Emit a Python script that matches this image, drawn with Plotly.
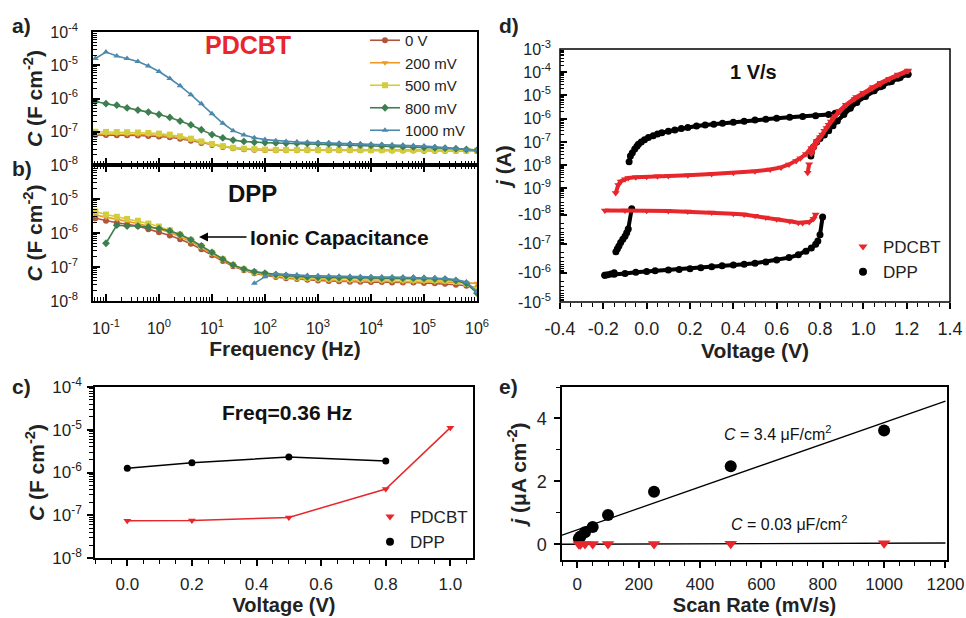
import plotly.graph_objects as go

W, H = 966, 618
FONT = "Liberation Sans, Arial, sans-serif"


def fx(p):
    return p / W


def fy(p):
    return 1 - p / H


# ---------------- data : panels a) and b) (impedance) ----------------
freq = [0.063, 0.1, 0.16, 0.25, 0.4, 0.63,
        1.0, 1.6, 2.5, 4.0, 6.3,
        10, 16, 25, 40, 63,
        100, 160, 250, 400, 630,
        1e3, 1.6e3, 2.5e3, 4e3, 6.3e3,
        1e4, 1.6e4, 2.5e4, 4e4, 6.3e4,
        1e5, 1.6e5, 2.5e5, 4e5, 6.3e5,
        1e6]

bias_names = ["0 V", "200 mV", "500 mV", "800 mV", "1000 mV"]

# PDCBT capacitance (F cm^-2)
pdcbt_0v = [8.0e-8, 8.0e-8, 7.9e-8, 7.8e-8, 7.7e-8, 7.5e-8,
            7.2e-8, 6.8e-8, 6.2e-8, 5.4e-8, 4.6e-8,
            4.0e-8, 3.5e-8, 3.2e-8, 3.0e-8, 2.9e-8,
            2.85e-8, 2.8e-8, 2.8e-8, 2.8e-8, 2.8e-8,
            2.8e-8, 2.8e-8, 2.8e-8, 2.8e-8, 2.8e-8,
            2.8e-8, 2.8e-8, 2.75e-8, 2.75e-8, 2.75e-8,
            2.7e-8, 2.7e-8, 2.7e-8, 2.7e-8, 2.7e-8,
            2.65e-8]
pdcbt_200 = [8.6e-8, 8.6e-8, 8.5e-8, 8.4e-8, 8.3e-8, 8.1e-8,
             7.8e-8, 7.3e-8, 6.6e-8, 5.7e-8, 4.8e-8,
             4.1e-8, 3.6e-8, 3.3e-8, 3.1e-8, 3.0e-8,
             2.9e-8, 2.85e-8, 2.85e-8, 2.85e-8, 2.85e-8,
             2.85e-8, 2.85e-8, 2.85e-8, 2.85e-8, 2.8e-8,
             2.8e-8, 2.8e-8, 2.8e-8, 2.8e-8, 2.8e-8,
             2.75e-8, 2.75e-8, 2.75e-8, 2.7e-8, 2.7e-8,
             2.7e-8]
pdcbt_500 = [1.0e-7, 9.9e-8, 9.8e-8, 9.7e-8, 9.5e-8, 9.2e-8,
             8.8e-8, 8.2e-8, 7.3e-8, 6.2e-8, 5.1e-8,
             4.3e-8, 3.7e-8, 3.3e-8, 3.1e-8, 3.0e-8,
             2.9e-8, 2.85e-8, 2.85e-8, 2.85e-8, 2.85e-8,
             2.85e-8, 2.85e-8, 2.85e-8, 2.85e-8, 2.85e-8,
             2.8e-8, 2.8e-8, 2.8e-8, 2.8e-8, 2.8e-8,
             2.8e-8, 2.75e-8, 2.75e-8, 2.75e-8, 2.7e-8,
             2.7e-8]
pdcbt_800 = [8.1e-7, 7.0e-7, 6.3e-7, 5.2e-7, 4.5e-7, 3.9e-7,
             3.3e-7, 2.7e-7, 2.1e-7, 1.6e-7, 1.15e-7,
             8.2e-8, 6.5e-8, 5.6e-8, 5.1e-8, 4.8e-8,
             4.7e-8, 4.6e-8, 4.5e-8, 4.5e-8, 4.4e-8,
             4.4e-8, 4.3e-8, 4.2e-8, 4.1e-8, 4.0e-8,
             3.9e-8, 3.8e-8, 3.7e-8, 3.6e-8, 3.5e-8,
             3.4e-8, 3.3e-8, 3.2e-8, 3.1e-8, 2.95e-8,
             2.8e-8]
pdcbt_1000 = [1.6e-5, 2.5e-5, 1.9e-5, 1.6e-5, 1.3e-5, 9.5e-6,
              6.5e-6, 4.0e-6, 2.4e-6, 1.3e-6, 7.0e-7,
              3.5e-7, 1.8e-7, 1.08e-7, 8.0e-8, 6.6e-8,
              5.8e-8, 5.4e-8, 5.1e-8, 4.9e-8, 4.8e-8,
              4.7e-8, 4.6e-8, 4.5e-8, 4.4e-8, 4.3e-8,
              4.2e-8, 4.1e-8, 4.0e-8, 3.9e-8, 3.8e-8,
              3.7e-8, 3.5e-8, 3.3e-8, 3.1e-8, 2.9e-8,
              2.8e-8]

# DPP capacitance (F cm^-2)
dpp_0v = [2.7e-6, 2.3e-6, 2.0e-6, 1.8e-6, 1.6e-6, 1.3e-6,
          1.05e-6, 8.5e-7, 6.5e-7, 4.8e-7, 3.3e-7,
          2.2e-7, 1.5e-7, 1.05e-7, 8.0e-8, 6.5e-8,
          5.7e-8, 5.1e-8, 4.7e-8, 4.4e-8, 4.2e-8,
          4.0e-8, 3.9e-8, 3.8e-8, 3.7e-8, 3.7e-8,
          3.6e-8, 3.6e-8, 3.5e-8, 3.5e-8, 3.5e-8,
          3.4e-8, 3.3e-8, 3.2e-8, 3.0e-8, 2.8e-8,
          2.4e-8]
dpp_200 = [3.4e-6, 2.9e-6, 2.5e-6, 2.2e-6, 1.9e-6, 1.6e-6,
           1.3e-6, 1.05e-6, 7.8e-7, 5.6e-7, 3.8e-7,
           2.4e-7, 1.6e-7, 1.1e-7, 8.3e-8, 6.8e-8,
           5.9e-8, 5.3e-8, 4.9e-8, 4.6e-8, 4.4e-8,
           4.2e-8, 4.1e-8, 4.0e-8, 3.9e-8, 3.9e-8,
           3.8e-8, 3.8e-8, 3.8e-8, 3.7e-8, 3.7e-8,
           3.7e-8, 3.6e-8, 3.6e-8, 3.5e-8, 3.4e-8,
           3.3e-8]
dpp_500 = [4.3e-6, 3.5e-6, 3.0e-6, 2.6e-6, 2.3e-6, 1.9e-6,
           1.55e-6, 1.2e-6, 9.0e-7, 6.3e-7, 4.1e-7,
           2.6e-7, 1.7e-7, 1.15e-7, 8.6e-8, 7.0e-8,
           6.2e-8, 5.6e-8, 5.2e-8, 4.9e-8, 4.7e-8,
           4.6e-8, 4.5e-8, 4.5e-8, 4.4e-8, 4.4e-8,
           4.4e-8, 4.3e-8, 4.3e-8, 4.3e-8, 4.2e-8,
           4.2e-8, 4.1e-8, 4.0e-8, 3.7e-8, 3.2e-8,
           2.2e-8]
dpp_800 = [None, 5.0e-7, 1.7e-6, 1.6e-6, 1.6e-6, 1.5e-6,
           1.35e-6, 1.15e-6, 9.0e-7, 6.3e-7, 4.2e-7,
           2.7e-7, 1.7e-7, 1.15e-7, 8.7e-8, 7.3e-8,
           6.6e-8, 6.0e-8, 5.6e-8, 5.3e-8, 5.1e-8,
           5.0e-8, 4.9e-8, 4.9e-8, 4.8e-8, 4.8e-8,
           4.8e-8, 4.7e-8, 4.7e-8, 4.7e-8, 4.7e-8,
           4.6e-8, 4.5e-8, 4.4e-8, 4.0e-8, 3.3e-8,
           1.7e-8]
dpp_1000 = [None, None, None, None, None, None,
            None, None, None, None, None,
            None, None, None, None, 3.3e-8,
            5.2e-8, 6.3e-8, 6.0e-8, 5.8e-8, 5.6e-8,
            5.5e-8, 5.4e-8, 5.3e-8, 5.3e-8, 5.2e-8,
            5.2e-8, 5.1e-8, 5.1e-8, 5.0e-8, 5.0e-8,
            4.9e-8, 4.8e-8, 4.6e-8, 4.3e-8, 3.6e-8,
            1.9e-8]

freq_ticks = [0.1, 1, 10, 100, 1e3, 1e4, 1e5, 1e6]
freq_ticktext = ["10<sup>-1</sup>", "10<sup>0</sup>", "10<sup>1</sup>", "10<sup>2</sup>",
                 "10<sup>3</sup>", "10<sup>4</sup>", "10<sup>5</sup>", "10<sup>6</sup>"]
cap_ticks = [1e-4, 1e-5, 1e-6, 1e-7, 1e-8]
cap_ticktext = ["10<sup>-4</sup>", "10<sup>-5</sup>", "10<sup>-6</sup>", "10<sup>-7</sup>", "10<sup>-8</sup>"]

# ---------------- data : panel c) ----------------
c_volt_pdcbt = [0.0, 0.2, 0.5, 0.8, 1.0]
c_cap_pdcbt = [7.4e-8, 7.5e-8, 8.9e-8, 4.1e-7, 1.12e-5]
c_volt_dpp = [0.0, 0.2, 0.5, 0.8]
c_cap_dpp = [1.26e-6, 1.7e-6, 2.3e-6, 1.87e-6]

# ---------------- data : panel d) (CV at 1 V/s, current in A) ----------------
dpp_fwd_v = [-0.081, -0.075, -0.066, -0.055, -0.045, -0.038, -0.025, -0.01, 0.008, 0.03,
             0.05, 0.07, 0.10, 0.13, 0.16, 0.19, 0.23, 0.27, 0.31, 0.35,
             0.40, 0.45, 0.50, 0.55, 0.60, 0.66, 0.72, 0.78, 0.84, 0.87,
             0.90, 0.92, 0.94, 0.967, 1.0, 1.044, 1.08, 1.12, 1.16, 1.206]
dpp_fwd_j = [1.4e-8, 2.5e-8, 3.4e-8, 5.0e-8, 6.5e-8, 7.9e-8, 1.0e-7, 1.25e-7, 1.55e-7, 1.85e-7,
             2.2e-7, 2.5e-7, 2.9e-7, 3.3e-7, 3.8e-7, 4.2e-7, 4.8e-7, 5.3e-7, 5.8e-7, 6.3e-7,
             7.0e-7, 7.8e-7, 8.7e-7, 9.5e-7, 1.05e-6, 1.15e-6, 1.25e-6, 1.35e-6, 1.5e-6, 1.7e-6,
             2.1e-6, 2.6e-6, 3.4e-6, 6.0e-6, 9.5e-6, 1.6e-5, 2.4e-5, 3.8e-5, 5.5e-5, 8.2e-5]
dpp_rev_v = [1.206, 1.17, 1.13, 1.09, 1.05, 1.01, 0.97, 0.94, 0.91, 0.88,
             0.86, 0.84, 0.82, 0.80, 0.785, 0.77, 0.76, 0.758]
dpp_rev_j = [8.2e-5, 6.0e-5, 4.0e-5, 2.6e-5, 1.6e-5, 9.0e-6, 5.0e-6, 2.8e-6, 1.5e-6, 8.0e-7,
             5.0e-7, 3.0e-7, 2.0e-7, 1.4e-7, 1.0e-7, 6.0e-8, 3.5e-8, 2.5e-8]
dpp_neg_v = [0.812, 0.80, 0.79, 0.78, 0.76, 0.735, 0.70, 0.657, 0.60, 0.55,
             0.50, 0.45, 0.40, 0.348, 0.30, 0.25, 0.20, 0.15, 0.10, 0.039,
             0.0, -0.05, -0.10, -0.15, -0.193]
dpp_neg_j = [-1.2e-8, -4.9e-8, -8.0e-8, -1.05e-7, -1.4e-7, -1.8e-7, -2.4e-7, -3.0e-7, -3.6e-7, -4.2e-7,
             -4.7e-7, -5.1e-7, -5.4e-7, -5.7e-7, -6.2e-7, -6.7e-7, -7.2e-7, -7.6e-7, -8.0e-7, -8.5e-7,
             -8.9e-7, -9.5e-7, -1.05e-6, -1.12e-6, -1.2e-6]
dpp_turn_v = [-0.193, -0.18, -0.165, -0.15]
dpp_turn_j = [-1.2e-6, -1.15e-6, -1.1e-6, -1.0e-6]
dpp_rise_v = [-0.142, -0.135, -0.128, -0.12, -0.11, -0.10, -0.092, -0.085, -0.069]
dpp_rise_j = [-1.9e-7, -1.5e-7, -1.2e-7, -9.0e-8, -7.0e-8, -5.5e-8, -4.2e-8, -3.1e-8, -6.3e-9]

pd_fwd_v = [-0.143, -0.131, -0.12, -0.10, -0.085, -0.05, 0.0, 0.05, 0.10, 0.19,
            0.30, 0.40, 0.50, 0.57, 0.62, 0.657, 0.69, 0.71, 0.735, 0.76,
            0.785, 0.81, 0.83, 0.85, 0.87, 0.89, 0.92, 0.967, 1.0, 1.044,
            1.08, 1.12, 1.16, 1.206]
pd_fwd_j = [6.3e-10, 1.4e-9, 2.0e-9, 2.5e-9, 2.8e-9, 3.0e-9, 3.2e-9, 3.3e-9, 3.4e-9, 3.7e-9,
            4.2e-9, 4.7e-9, 5.5e-9, 6.5e-9, 8.0e-9, 1.07e-8, 1.5e-8, 2.0e-8, 3.0e-8, 5.5e-8,
            1.1e-7, 2.1e-7, 4.0e-7, 7.5e-7, 1.3e-6, 2.2e-6, 4.0e-6, 8.5e-6, 1.3e-5, 2.3e-5,
            3.5e-5, 5.3e-5, 8.0e-5, 1.2e-4]
pd_rev_v = [1.206, 1.16, 1.12, 1.08, 1.04, 1.0, 0.96, 0.92, 0.89, 0.86,
            0.84, 0.82, 0.80, 0.785, 0.77, 0.76]
pd_rev_j = [1.1e-4, 7.5e-5, 5.0e-5, 3.2e-5, 2.0e-5, 1.2e-5, 7.0e-6, 3.8e-6, 2.0e-6, 1.0e-6,
            5.5e-7, 3.0e-7, 1.6e-7, 9.0e-8, 5.0e-8, 3.0e-8]
pd_tail_v = [0.75, 0.743]
pd_tail_j = [1.1e-8, 4.7e-9]
pd_neg_v = [0.78, 0.77, 0.75, 0.72, 0.70, 0.66, 0.60, 0.55, 0.50, 0.45,
            0.40, 0.30, 0.19, 0.10, 0.0, -0.10, -0.193]
pd_neg_j = [-1.0e-8, -1.4e-8, -1.8e-8, -1.95e-8, -1.9e-8, -1.7e-8, -1.45e-8, -1.25e-8, -1.1e-8, -1.0e-8,
            -9.3e-9, -8.5e-9, -7.9e-9, -7.6e-9, -7.4e-9, -7.2e-9, -7.2e-9]

j_pos_ticks = [1e-3, 1e-4, 1e-5, 1e-6, 1e-7, 1e-8, 1e-9]
j_pos_ticktext = ["10<sup>-3</sup>", "10<sup>-4</sup>", "10<sup>-5</sup>", "10<sup>-6</sup>",
                  "10<sup>-7</sup>", "10<sup>-8</sup>", "10<sup>-9</sup>"]
j_neg_ticks = [1e-8, 1e-7, 1e-6, 1e-5]
j_neg_ticktext = ["-10<sup>-8</sup>", "-10<sup>-7</sup>", "-10<sup>-6</sup>", "-10<sup>-5</sup>"]
volt_d_ticks = [-0.4, -0.2, 0.0, 0.2, 0.4, 0.6, 0.8, 1.0, 1.2, 1.4]
volt_d_ticktext = ["-0.4", "-0.2", "0.0", "0.2", "0.4", "0.6", "0.8", "1.0", "1.2", "1.4"]

# ---------------- data : panel e) ----------------
scan_rate = [5, 10, 25, 50, 100, 250, 500, 1000]
j_dpp = [0.18, 0.25, 0.38, 0.55, 0.93, 1.67, 2.48, 3.62]
j_pdcbt = [0.0, 0.0, 0.01, 0.01, 0.01, 0.01, 0.02, 0.03]
fit_x = [-50, 1200]
fit_dpp = [0.29, 4.55]
fit_pdcbt = [0.0, 0.04]

# ---------------- style ----------------
RED = "#E8262B"
BLACK = "#000000"
TXT = "#222222"
bias_colors = ["#B0553D", "#EE9A22", "#D2CC3E", "#3F7E50", "#4C89AC"]
bias_symbols = ["circle", "triangle-down", "square", "diamond", "triangle-up"]


def minor_log(lo, hi):
    return [m * 10.0 ** e for e in range(lo, hi) for m in range(2, 10)]


def join(segs, neg=False):
    xs, ys = [], []
    for vx, vy in segs:
        if xs:
            xs.append(None)
            ys.append(None)
        xs += list(vx)
        ys += [(-v if neg else v) for v in vy]
    return xs, ys


fig = go.Figure()

# panel a & b
for name, col, sym, ya, yb in zip(bias_names, bias_colors, bias_symbols,
                                   [pdcbt_0v, pdcbt_200, pdcbt_500, pdcbt_800, pdcbt_1000],
                                   [dpp_0v, dpp_200, dpp_500, dpp_800, dpp_1000]):
    fig.add_trace(go.Scatter(x=freq, y=ya, name=name, mode="lines+markers",
                             line=dict(color=col, width=1.6),
                             marker=dict(color=col, symbol=sym, size=6),
                             xaxis="x", yaxis="y", legend="legend"))
    fig.add_trace(go.Scatter(x=freq, y=yb, name=name, mode="lines+markers",
                             line=dict(color=col, width=1.6),
                             marker=dict(color=col, symbol=sym, size=6),
                             xaxis="x2", yaxis="y2", showlegend=False))

# panel c
fig.add_trace(go.Scatter(x=c_volt_dpp, y=c_cap_dpp, mode="lines+markers",
                         line=dict(color=BLACK, width=1.5),
                         marker=dict(color=BLACK, symbol="circle", size=7),
                         xaxis="x3", yaxis="y3", showlegend=False))
fig.add_trace(go.Scatter(x=c_volt_pdcbt, y=c_cap_pdcbt, mode="lines+markers",
                         line=dict(color=RED, width=1.5),
                         marker=dict(color=RED, symbol="triangle-down", size=7),
                         xaxis="x3", yaxis="y3", showlegend=False))
fig.add_trace(go.Scatter(x=[None], y=[None], name="PDCBT", mode="markers",
                         marker=dict(color=RED, symbol="triangle-down", size=8),
                         xaxis="x3", yaxis="y3", legend="legend2"))
fig.add_trace(go.Scatter(x=[None], y=[None], name="DPP", mode="markers",
                         marker=dict(color=BLACK, symbol="circle", size=8),
                         xaxis="x3", yaxis="y3", legend="legend2"))

# panel d
dpp_up_x, dpp_up_y = join([(dpp_fwd_v, dpp_fwd_j), (dpp_rev_v, dpp_rev_j)])
dpp_dn_x, dpp_dn_y = join([(dpp_neg_v[:2], dpp_neg_j[:2]), (dpp_neg_v[2:], dpp_neg_j[2:]),
                           (dpp_turn_v, dpp_turn_j), (dpp_rise_v, dpp_rise_j)], neg=True)
pd_up_x, pd_up_y = join([(pd_fwd_v, pd_fwd_j), (pd_rev_v, pd_rev_j), (pd_tail_v, pd_tail_j)])
pd_dn_x, pd_dn_y = join([(pd_neg_v, pd_neg_j)], neg=True)

dpp_style = dict(mode="lines+markers", line=dict(color=BLACK, width=4),
                 marker=dict(color=BLACK, symbol="circle", size=7), showlegend=False)
pd_style = dict(mode="lines+markers", line=dict(color=RED, width=4),
                marker=dict(color=RED, symbol="triangle-down", size=7), showlegend=False)
fig.add_trace(go.Scatter(x=dpp_up_x, y=dpp_up_y, xaxis="x4", yaxis="y4", **dpp_style))
fig.add_trace(go.Scatter(x=dpp_dn_x, y=dpp_dn_y, xaxis="x5", yaxis="y5", **dpp_style))
fig.add_trace(go.Scatter(x=pd_up_x, y=pd_up_y, xaxis="x4", yaxis="y4", **pd_style))
fig.add_trace(go.Scatter(x=pd_dn_x, y=pd_dn_y, xaxis="x5", yaxis="y5", **pd_style))
fig.add_trace(go.Scatter(x=[None], y=[None], name="PDCBT", mode="markers",
                         marker=dict(color=RED, symbol="triangle-down", size=8),
                         xaxis="x5", yaxis="y5", legend="legend3"))
fig.add_trace(go.Scatter(x=[None], y=[None], name="DPP", mode="markers",
                         marker=dict(color=BLACK, symbol="circle", size=8),
                         xaxis="x5", yaxis="y5", legend="legend3"))

# panel e
fig.add_trace(go.Scatter(x=fit_x, y=fit_dpp, mode="lines", line=dict(color=BLACK, width=1.3),
                         xaxis="x6", yaxis="y6", showlegend=False))
fig.add_trace(go.Scatter(x=fit_x, y=fit_pdcbt, mode="lines", line=dict(color=BLACK, width=1.3),
                         xaxis="x6", yaxis="y6", showlegend=False))
fig.add_trace(go.Scatter(x=scan_rate, y=j_dpp, mode="markers",
                         marker=dict(color=BLACK, symbol="circle", size=12),
                         xaxis="x6", yaxis="y6", showlegend=False))
fig.add_trace(go.Scatter(x=scan_rate, y=j_pdcbt, mode="markers",
                         marker=dict(color=RED, symbol="triangle-down", size=11),
                         xaxis="x6", yaxis="y6", showlegend=False))

# ---------------- axes ----------------
base = dict(showline=True, linecolor="black", linewidth=1.5, showgrid=False, zeroline=False,
            tickcolor="black", tickwidth=1.5, automargin=False)
TITLE_FONT = dict(family=FONT, size=21, color=TXT)
C_TITLE = "<b><i>C</i> (F cm<sup>-2</sup>)</b>"


def tf(size):
    return dict(family=FONT, size=size, color=TXT)


def logminor(lo, hi, ticks="inside"):
    return dict(tickmode="array", tickvals=minor_log(lo, hi), ticks=ticks, ticklen=4,
                tickcolor="black", tickwidth=1)


def linminor(dt, ticks="outside"):
    return dict(tick0=0, dtick=dt, ticks=ticks, ticklen=4, tickcolor="black", tickwidth=1)


layout_axes = dict(
    xaxis=dict(**base, type="log", range=[-1.245, 6], domain=[fx(93), fx(477)], anchor="y",
               tickmode="array", tickvals=freq_ticks, ticktext=freq_ticktext,
               showticklabels=False, ticks="inside", ticklen=7, mirror=True,
               minor=logminor(-2, 6)),
    yaxis=dict(**base, type="log", range=[-8, -4], domain=[fy(165), fy(32)], anchor="x",
               tickmode="array", tickvals=cap_ticks, ticktext=cap_ticktext,
               ticks="inside", ticklen=7, mirror=True, ticklabelstandoff=10,
               tickfont=tf(16),
               title=dict(text=C_TITLE, font=TITLE_FONT, standoff=2),
               minor=logminor(-9, -4)),
    xaxis2=dict(**base, type="log", range=[-1.245, 6], domain=[fx(93), fx(477)], anchor="y2",
                tickmode="array", tickvals=freq_ticks, ticktext=freq_ticktext,
                ticks="inside", ticklen=7, mirror="ticks", ticklabelstandoff=12,
                tickfont=tf(16),
                title=dict(text="<b>Frequency (Hz)</b>", font=TITLE_FONT, standoff=0),
                minor=logminor(-2, 6)),
    yaxis2=dict(**base, type="log", range=[-8, -4], domain=[fy(301), fy(165)], anchor="x2",
                tickmode="array", tickvals=cap_ticks[1:], ticktext=cap_ticktext[1:],
                ticks="inside", ticklen=7, mirror=True, ticklabelstandoff=10,
                tickfont=tf(16),
                title=dict(text=C_TITLE, font=TITLE_FONT, standoff=2),
                minor=logminor(-9, -4)),
    xaxis3=dict(**base, range=[-0.1, 1.07], domain=[fx(95), fx(473)], anchor="y3",
                tick0=0, dtick=0.2, tickformat=".1f", ticks="outside", ticklen=6, mirror=True,
                ticklabelstandoff=4, tickfont=tf(17),
                title=dict(text="<b>Voltage (V)</b>", font=dict(family=FONT, size=20, color=TXT),
                           standoff=3),
                minor=linminor(0.05)),
    yaxis3=dict(**base, type="log", range=[-8, -4], domain=[fy(558), fy(387)], anchor="x3",
                tickmode="array", tickvals=cap_ticks, ticktext=cap_ticktext,
                ticks="outside", ticklen=6, mirror=True, ticklabelstandoff=2,
                tickfont=tf(17),
                title=dict(text=C_TITLE, font=TITLE_FONT, standoff=2),
                minor=logminor(-9, -4, "outside")),
    xaxis4=dict(range=[-0.4, 1.4], domain=[fx(560), fx(950)], anchor="y4", automargin=False,
                showline=False, showgrid=False, zeroline=False, showticklabels=False, ticks=""),
    yaxis4=dict(type="log", range=[-9.5, -3], domain=[fy(200), fy(49)], anchor="x4",
                automargin=False, showline=False, showgrid=False, zeroline=False,
                tickmode="array", tickvals=j_pos_ticks, ticktext=j_pos_ticktext,
                ticks="inside", ticklen=7, tickcolor="black", tickwidth=1.5, ticklabelstandoff=8,
                tickfont=tf(16),
                minor=logminor(-10, -3)),
    xaxis5=dict(range=[-0.4, 1.4], domain=[fx(560), fx(950)], anchor="y5", automargin=False,
                showline=False, showgrid=False, zeroline=False,
                tickmode="array", tickvals=volt_d_ticks, ticktext=volt_d_ticktext,
                ticks="outside", ticklen=6,
                tickcolor="black", tickwidth=1.5, ticklabelstandoff=4,
                tickfont=tf(18),
                title=dict(text="<b>Voltage (V)</b>", font=TITLE_FONT, standoff=0),
                minor=linminor(0.05)),
    yaxis5=dict(type="log", range=[-5, -8.5], domain=[fy(302), fy(200)], anchor="x5",
                automargin=False, showline=False, showgrid=False, zeroline=False,
                tickmode="array", tickvals=j_neg_ticks, ticktext=j_neg_ticktext,
                ticks="inside", ticklen=7, tickcolor="black", tickwidth=1.5, ticklabelstandoff=8,
                tickfont=tf(16),
                minor=logminor(-9, -4)),
    xaxis6=dict(**base, range=[-50, 1205], domain=[fx(562), fx(947)], anchor="y6",
                tick0=0, dtick=200, ticks="outside", ticklen=6, mirror=True,
                ticklabelstandoff=2, tickfont=tf(17),
                title=dict(text="<b>Scan Rate (mV/s)</b>", font=dict(family=FONT, size=20, color=TXT),
                           standoff=3),
                minor=linminor(50)),
    yaxis6=dict(**base, range=[-0.5, 5], domain=[fy(560), fy(387)], anchor="x6",
                tick0=0, dtick=2, ticks="outside", ticklen=6, mirror=True,
                ticklabelstandoff=4, tickfont=tf(18),
                title=dict(text="<b><i>j</i> (μA cm<sup>-2</sup>)</b>", font=TITLE_FONT, standoff=4),
                minor=linminor(1)),
)


def ann(x, y, text, size=21, color=TXT, xanchor="center", **kw):
    return dict(x=fx(x), y=fy(y), xref="paper", yref="paper", text=text, showarrow=False,
                xanchor=xanchor, yanchor="middle",
                font=dict(family=FONT, size=size, color=color), **kw)


annotations = [
    ann(10, 25, "<b>a)</b>", xanchor="left"),
    ann(10, 168, "<b>b)</b>", xanchor="left"),
    ann(10, 386, "<b>c)</b>", xanchor="left"),
    ann(497, 25, "<b>d)</b>", xanchor="left"),
    ann(497, 386, "<b>e)</b>", xanchor="left"),
    ann(248, 45, "<b>PDCBT</b>", size=25, color=RED),
    ann(252, 193, "<b>DPP</b>", size=24, color="#111"),
    ann(287, 412, "<b>Freq=0.36 Hz</b>", size=21, color="#111"),
    ann(753, 72, "<b>1 V/s</b>", size=20, color="#111"),
    ann(504, 167, "<b><i>j</i> (A)</b>", size=21, textangle=-90),
    ann(777, 433, "<i>C</i> = 3.4 μF/cm<sup>2</sup>", size=16, color="#111"),
    ann(789, 523, "<i>C</i> = 0.03 μF/cm<sup>2</sup>", size=16, color="#111"),
    dict(x=fx(199), y=fy(237), xref="paper", yref="paper", ax=49, ay=0,
         text="", showarrow=True, arrowhead=2, arrowsize=1.2,
         arrowwidth=1.5, arrowcolor="black"),
    ann(248, 237, "<b>Ionic Capacitance</b>", size=21, color="#111", xanchor="left"),
]

fig.update_layout(
    template="none",
    width=W, height=H, autosize=False,
    margin=dict(l=0, r=0, t=0, b=0, pad=0, autoexpand=False),
    paper_bgcolor="white", plot_bgcolor="white",
    font=dict(family=FONT, size=15, color=TXT),
    **layout_axes,
    annotations=annotations,
    shapes=[dict(type="rect", xref="paper", yref="paper", x0=fx(560), x1=fx(950),
                 y0=fy(302), y1=fy(49), line=dict(color="black", width=1.5))],
    legend=dict(x=fx(365), y=fy(24), xanchor="left", yanchor="top", font=tf(15),
                bgcolor="rgba(0,0,0,0)", borderwidth=0),
    legend2=dict(x=fx(370), y=fy(499), xanchor="left", yanchor="top", font=tf(17),
                 bgcolor="rgba(0,0,0,0)", borderwidth=0),
    legend3=dict(x=fx(843), y=fy(229), xanchor="left", yanchor="top", font=tf(17),
                 bgcolor="rgba(0,0,0,0)", borderwidth=0),
)

fig.write_html("out.html", config={"displayModeBar": False},
               post_script="document.body.style.margin='0px';")
